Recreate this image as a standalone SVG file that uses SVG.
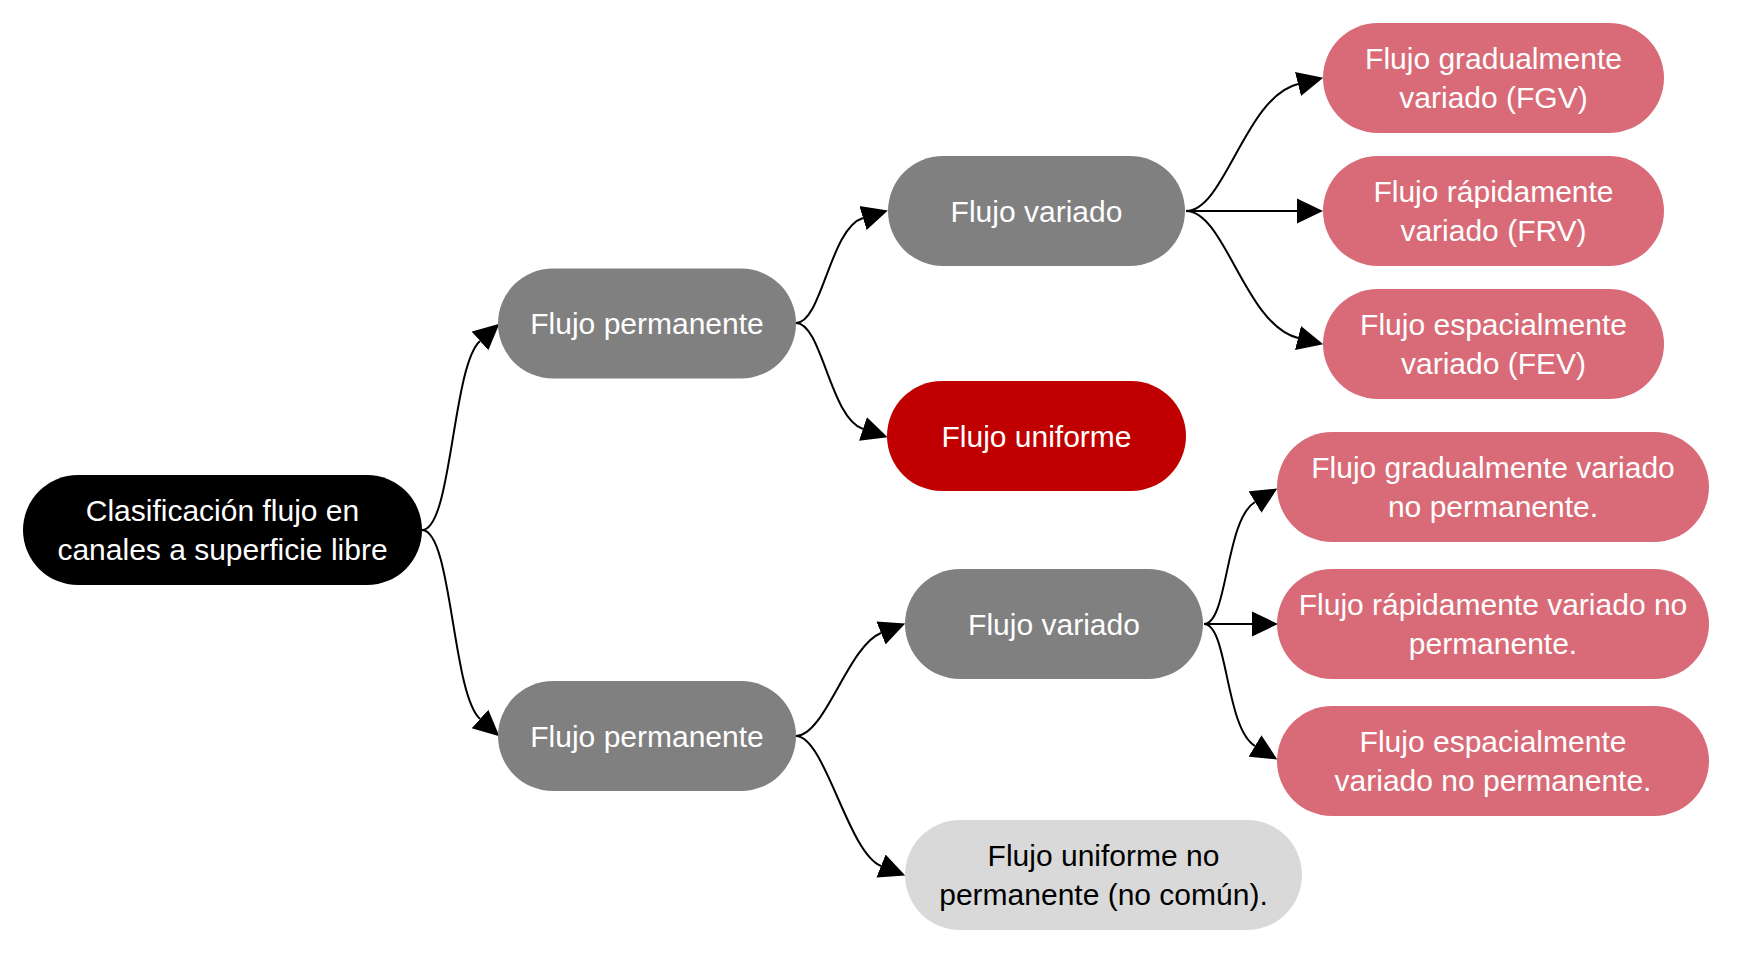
<svg xmlns="http://www.w3.org/2000/svg" width="1738" height="954" viewBox="0 0 1738 954">
  <style>
    .lbl { font-family: "Liberation Sans", Arial, sans-serif; font-size: 30px; text-anchor: middle; fill: #ffffff; }
    .dark { fill: #000000; }
    .conn { fill: none; stroke: #000000; stroke-width: 2; marker-end: url(#arrow); }
    .root { fill: #000000; }
    .gray { fill: #808080; }
    .red { fill: #C00000; }
    .pink { fill: #D86B77; }
    .light { fill: #D9D9D9; }
  </style>
  <defs>
    <marker id="arrow" markerUnits="userSpaceOnUse" markerWidth="26" markerHeight="26" viewBox="0 0 25 24" refX="0" refY="12" orient="auto">
      <path d="M0,0 L25,12 L0,24 z" fill="#000000"/>
    </marker>
  </defs>
  <rect width="1738" height="954" fill="#ffffff"/>

  <g id="connectors">
    <path class="conn" d="M422,530 C452,530 452,366 480,341"/>
    <path class="conn" d="M422,530 C452,530 452,694 480,719"/>
    <path class="conn" d="M796,323 C822,323 830,228 863,218"/>
    <path class="conn" d="M796,323 C822,323 830,418 863,429"/>
    <path class="conn" d="M796,736 C825,736 848,646 881,633"/>
    <path class="conn" d="M796,736 C825,736 848,853 881,866"/>
    <path class="conn" d="M1186,211 C1225,211 1245,97 1298,84"/>
    <path class="conn" d="M1186,211 L1297,211"/>
    <path class="conn" d="M1186,211 C1225,211 1245,325 1298,338"/>
    <path class="conn" d="M1204,624 C1228,624 1225,520 1255,502"/>
    <path class="conn" d="M1204,624 L1252,624"/>
    <path class="conn" d="M1204,624 C1228,624 1225,728 1255,746"/>
  </g>

  <g id="root">
    <rect class="root" x="23" y="475" width="399" height="110" rx="55"/>
    <text class="lbl" x="222.5" y="521">Clasificación flujo en</text>
    <text class="lbl" x="222.5" y="560">canales a superficie libre</text>
  </g>

  <g id="perm-top">
    <rect class="gray" x="498" y="268.5" width="298" height="110" rx="55"/>
    <text class="lbl" x="647" y="334">Flujo permanente</text>
  </g>

  <g id="variado-top">
    <rect class="gray" x="888" y="156" width="297" height="110" rx="55"/>
    <text class="lbl" x="1036.5" y="221.5">Flujo variado</text>
  </g>

  <g id="uniforme">
    <rect class="red" x="887" y="381" width="299" height="110" rx="55"/>
    <text class="lbl" x="1036.5" y="446.5">Flujo uniforme</text>
  </g>

  <g id="fgv">
    <rect class="pink" x="1323" y="23" width="341" height="110" rx="55"/>
    <text class="lbl" x="1493.5" y="69">Flujo gradualmente</text>
    <text class="lbl" x="1493.5" y="108">variado (FGV)</text>
  </g>

  <g id="frv">
    <rect class="pink" x="1323" y="156" width="341" height="110" rx="55"/>
    <text class="lbl" x="1493.5" y="202">Flujo rápidamente</text>
    <text class="lbl" x="1493.5" y="241">variado (FRV)</text>
  </g>

  <g id="fev">
    <rect class="pink" x="1323" y="289" width="341" height="110" rx="55"/>
    <text class="lbl" x="1493.5" y="335">Flujo espacialmente</text>
    <text class="lbl" x="1493.5" y="374">variado (FEV)</text>
  </g>

  <g id="perm-bottom">
    <rect class="gray" x="498" y="681" width="298" height="110" rx="55"/>
    <text class="lbl" x="647" y="746.5">Flujo permanente</text>
  </g>

  <g id="variado-bottom">
    <rect class="gray" x="905" y="569" width="298" height="110" rx="55"/>
    <text class="lbl" x="1054" y="634.5">Flujo variado</text>
  </g>

  <g id="uniforme-np">
    <rect class="light" x="905" y="820" width="397" height="110" rx="55"/>
    <text class="lbl dark" x="1103.5" y="866">Flujo uniforme no</text>
    <text class="lbl dark" x="1103.5" y="905">permanente (no común).</text>
  </g>

  <g id="fgv-np">
    <rect class="pink" x="1277" y="432" width="432" height="110" rx="55"/>
    <text class="lbl" x="1493" y="478">Flujo gradualmente variado</text>
    <text class="lbl" x="1493" y="517">no permanente.</text>
  </g>

  <g id="frv-np">
    <rect class="pink" x="1277" y="569" width="432" height="110" rx="55"/>
    <text class="lbl" x="1493" y="615">Flujo rápidamente variado no</text>
    <text class="lbl" x="1493" y="654">permanente.</text>
  </g>

  <g id="fev-np">
    <rect class="pink" x="1277" y="706" width="432" height="110" rx="55"/>
    <text class="lbl" x="1493" y="752">Flujo espacialmente</text>
    <text class="lbl" x="1493" y="791">variado no permanente.</text>
  </g>
</svg>
